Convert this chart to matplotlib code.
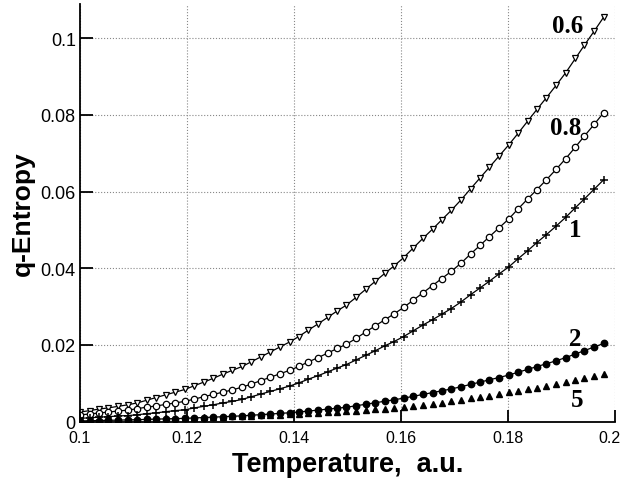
import matplotlib
matplotlib.use("Agg")
import matplotlib.pyplot as plt
import matplotlib.transforms as mtransforms
import numpy as np

# temperature grid (a.u.)
TEMPERATURE = [
    0.1, 0.1018, 0.1036, 0.1053, 0.1071, 0.1089, 0.1107, 0.1125, 0.1142, 0.116,
    0.1178, 0.1196, 0.1214, 0.1231, 0.1249, 0.1267, 0.1285, 0.1303, 0.132, 0.1338,
    0.1356, 0.1374, 0.1392, 0.1409, 0.1427, 0.1445, 0.1463, 0.1481, 0.1498, 0.1516,
    0.1534, 0.1552, 0.157, 0.1587, 0.1605, 0.1623, 0.1641, 0.1659, 0.1676, 0.1694,
    0.1712, 0.173, 0.1748, 0.1765, 0.1783, 0.1801, 0.1819, 0.1837, 0.1854, 0.1872,
    0.189, 0.1908, 0.1926, 0.1943, 0.1961, 0.1979,
]

# q-entropy values, in units of 1e-4
Q_06 = [
    25, 29, 33, 36, 40, 44, 49, 56, 63, 70,
    77, 84, 94, 103, 113, 124, 134, 144, 156, 169,
    182, 195, 208, 222, 239, 255, 272, 289, 304, 324,
    345, 366, 387, 406, 428, 453, 478, 502, 526, 551,
    578, 607, 636, 663, 692, 721, 752, 784, 814, 845,
    877, 910, 947, 982, 1018, 1055,
]
Q_08 = [
    18, 20, 23, 25, 28, 30, 34, 38, 41, 45,
    49, 53, 59, 65, 71, 77, 83, 90, 98, 107,
    116, 125, 134, 144, 156, 167, 179, 191, 202, 217,
    234, 250, 266, 281, 298, 317, 336, 355, 373, 392,
    413, 437, 460, 482, 505, 528, 555, 581, 605, 631,
    658, 686, 716, 745, 775, 806,
]
Q_1 = [
    9, 10, 12, 13, 15, 16, 18, 21, 23, 26,
    29, 31, 36, 40, 44, 49, 53, 58, 65, 72,
    79, 86, 93, 101, 111, 120, 130, 140, 149, 161,
    173, 185, 198, 209, 222, 237, 252, 266, 280, 295,
    312, 331, 349, 366, 385, 403, 425, 446, 467, 488,
    510, 533, 558, 581, 606, 631,
]
Q_2 = [
    2.0, 2.5, 3.1, 3.6, 4.1, 4.7, 5.3, 6.0, 6.7, 7.4,
    8.1, 8.8, 9.8, 10.9, 11.9, 13.0, 14.1, 15.3, 16.8, 18.4,
    20.0, 21.7, 23.3, 25.3, 27.8, 30.3, 32.8, 35.3, 37.7, 41.5,
    45.5, 49.4, 53.4, 57.1, 61.4, 66.2, 71.1, 75.9, 80.5, 85.4,
    91.1, 97.2, 103.3, 109.1, 115.2, 121.4, 129.0, 136.5, 143.7, 151.2,
    158.8, 167.2, 176.5, 185.4, 194.7, 204.1,
]
Q_5 = [
    3.0, 3.5, 4.1, 4.6, 5.1, 5.7, 6.3, 7.0, 7.7, 8.4,
    9.1, 9.8, 10.7, 11.6, 12.5, 13.4, 14.3, 15.2, 16.0, 16.9,
    17.8, 18.7, 19.6, 20.6, 21.9, 23.2, 24.4, 25.7, 26.9, 28.6,
    30.4, 32.2, 34.0, 35.7, 37.9, 40.9, 44.0, 47.0, 49.9, 53.0,
    56.6, 60.6, 64.6, 68.3, 72.3, 76.2, 80.6, 84.9, 89.0, 93.3,
    97.6, 102.4, 107.8, 112.9, 118.3, 123.7,
]

LABELS = ["0.6", "0.8", "1", "2", "5"]
LABEL_POS = [(0.1912, 0.1032), (0.1907, 0.0768), (0.1925, 0.0500),
             (0.1925, 0.0216), (0.1929, 0.0057)]

X_TICKS = [0.1, 0.12, 0.14, 0.16, 0.18, 0.2]
Y_TICKS = [0, 0.02, 0.04, 0.06, 0.08, 0.1]

plt.rcParams["font.family"] = ["Liberation Sans", "DejaVu Sans"]

fig = plt.figure(figsize=(6.21, 4.81), dpi=100)
ax = fig.add_axes([0.1288, 0.1212, 0.8615, 0.8684])

t = np.array(TEMPERATURE)
scale = 1e-4
ax.plot(t, np.array(Q_06) * scale, color="black", lw=0.9, marker="v", ms=5,
        mfc="white", mec="black", mew=0.9)
ax.plot(t, np.array(Q_08) * scale, color="black", lw=0.9, marker="o", ms=4.6,
        mfc="white", mec="black", mew=0.9)
ax.plot(t, np.array(Q_1) * scale, color="black", lw=0.9, marker="+", ms=6,
        mec="black", mew=1.1)
ax.plot(t, np.array(Q_2) * scale, color="black", lw=0.9, marker="o", ms=4.6,
        mfc="black", mec="black")
ax.plot(t, np.array(Q_5) * scale, ls="none", marker="^", ms=4.5,
        mfc="black", mec="black")

for text, (x, y) in zip(LABELS, LABEL_POS):
    ax.text(x, y, text, ha="center", va="center", fontsize=18,
            fontweight="bold", family="Liberation Serif")

ax.set_xlim(0.1, 0.2)
ax.set_ylim(0, 0.1089)
ax.set_xticks(X_TICKS)
ax.set_xticklabels([f"{v:g}" for v in X_TICKS], fontsize=11.5)
ax.set_yticks(Y_TICKS)
ax.set_yticklabels([f"{v:g}" for v in Y_TICKS], fontsize=13)
ax.tick_params(direction="in", length=9, width=1.3, color="black")
ax.tick_params(axis="x", pad=6)
ax.tick_params(axis="y", pad=3)

# the last x label sits just inside the figure edge, as in the original
last = ax.get_xticklabels()[-1]
last.set_transform(last.get_transform()
                   + mtransforms.ScaledTranslation(-6 / 100, 0, fig.dpi_scale_trans))

ax.grid(True, ls=":", lw=0.8, color="#888888")
ax.set_axisbelow(True)
for side in ["top", "right"]:
    ax.spines[side].set_visible(False)
for side in ["left", "bottom"]:
    ax.spines[side].set_linewidth(1.3)

ax.set_xlabel("Temperature,  a.u.", fontsize=19.5, fontweight="bold", labelpad=4)
ax.set_ylabel("q-Entropy", fontsize=19, fontweight="bold", labelpad=4)

fig.savefig("out.png", dpi=100)
